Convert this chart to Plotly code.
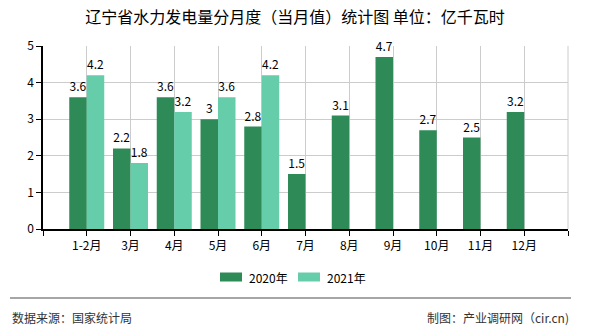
import plotly.graph_objects as go

months = ["1-2月", "3月", "4月", "5月", "6月", "7月", "8月", "9月", "10月", "11月", "12月"]
v2020 = [3.6, 2.2, 3.6, 3.0, 2.8, 1.5, 3.1, 4.7, 2.7, 2.5, 3.2]
v2021 = [4.2, 1.8, 3.2, 3.6, 4.2]
series_names = ["2020年", "2021年"]
colors = ["#2E8B57", "#66CDAA"]

FONT = "Noto Sans CJK SC"
W, H = 590, 330
L, R, T, B = 43, 22, 46, 101
pw, ph = W - L - R, H - T - B

def px_x(x):
    return (x - L) / pw

def px_y(y):
    return (H - B - y) / ph

xpos = list(range(1, len(months) + 1))

fig = go.Figure()
for name, vals, col in zip(series_names, [v2020, v2021], colors):
    fig.add_trace(go.Bar(
        x=xpos[:len(vals)], y=vals, name=name, marker_color=col, marker_line_width=0,
        text=[f"{v:g}" for v in vals], textposition="outside", constraintext="none",
        textfont=dict(family=FONT, size=12, color="#000"), cliponaxis=False,
        showlegend=False,
    ))

tickvals = list(range(0, len(months) + 2))
ticktext = [""] + months + [""]

fig.update_layout(
    width=W, height=H, margin=dict(l=L, r=R, t=T, b=B),
    paper_bgcolor="white", plot_bgcolor="white",
    barmode="group", bargap=0.2, bargroupgap=0,
    font=dict(family=FONT, size=12, color="#000"),
    title=dict(text="辽宁省水力发电量分月度（当月值）统计图 单位：亿千瓦时",
               x=0.5, xanchor="center", y=1 - 17 / H, yanchor="middle",
               font=dict(family=FONT, size=16, color="#000")),
    xaxis=dict(range=[0, len(months) + 1], tickvals=tickvals, ticktext=ticktext,
               showgrid=True, gridcolor="#cccccc", gridwidth=1,
               showline=True, linecolor="#000", linewidth=1.5,
               ticks="outside", ticklen=5, tickcolor="#000",
               tickfont=dict(family=FONT, size=12, color="#000"), zeroline=False),
    yaxis=dict(range=[0, 5], dtick=1, showgrid=True, gridcolor="#cccccc", gridwidth=1,
               showline=True, linecolor="#000", linewidth=1.5,
               ticks="outside", ticklen=5, tickcolor="#000",
               tickfont=dict(family=FONT, size=12, color="#000"), zeroline=False),
)

# right border of plot area
fig.add_shape(type="line", xref="paper", yref="paper", x0=1, x1=1, y0=0, y1=1,
              line=dict(color="#cccccc", width=1))

# manual legend
leg = [(220, 242, 247), (298, 320, 325)]
for (x0, x1, tx), name, col in zip(leg, series_names, colors):
    fig.add_shape(type="rect", xref="paper", yref="paper",
                  x0=px_x(x0), x1=px_x(x1), y0=px_y(281.5), y1=px_y(272.5),
                  fillcolor=col, line_width=0)
    fig.add_annotation(text=name, xref="paper", yref="paper", x=px_x(tx), y=px_y(277),
                       xanchor="left", yanchor="middle", showarrow=False,
                       font=dict(family=FONT, size=12, color="#000"))

# footer
fig.add_shape(type="line", xref="paper", yref="paper", x0=px_x(10), x1=px_x(571),
              y0=px_y(298), y1=px_y(298), line=dict(color="#888888", width=1.5))
fig.add_annotation(text="数据来源：国家统计局", xref="paper", yref="paper",
                   x=px_x(10), y=px_y(317), xanchor="left", yanchor="middle", showarrow=False,
                   font=dict(family=FONT, size=12, color="#333"))
fig.add_annotation(text="制图：产业调研网（cir.cn)", xref="paper", yref="paper",
                   x=px_x(571), y=px_y(317), xanchor="right", yanchor="middle", showarrow=False,
                   font=dict(family=FONT, size=12, color="#333"))

fig.write_html("out.html")
